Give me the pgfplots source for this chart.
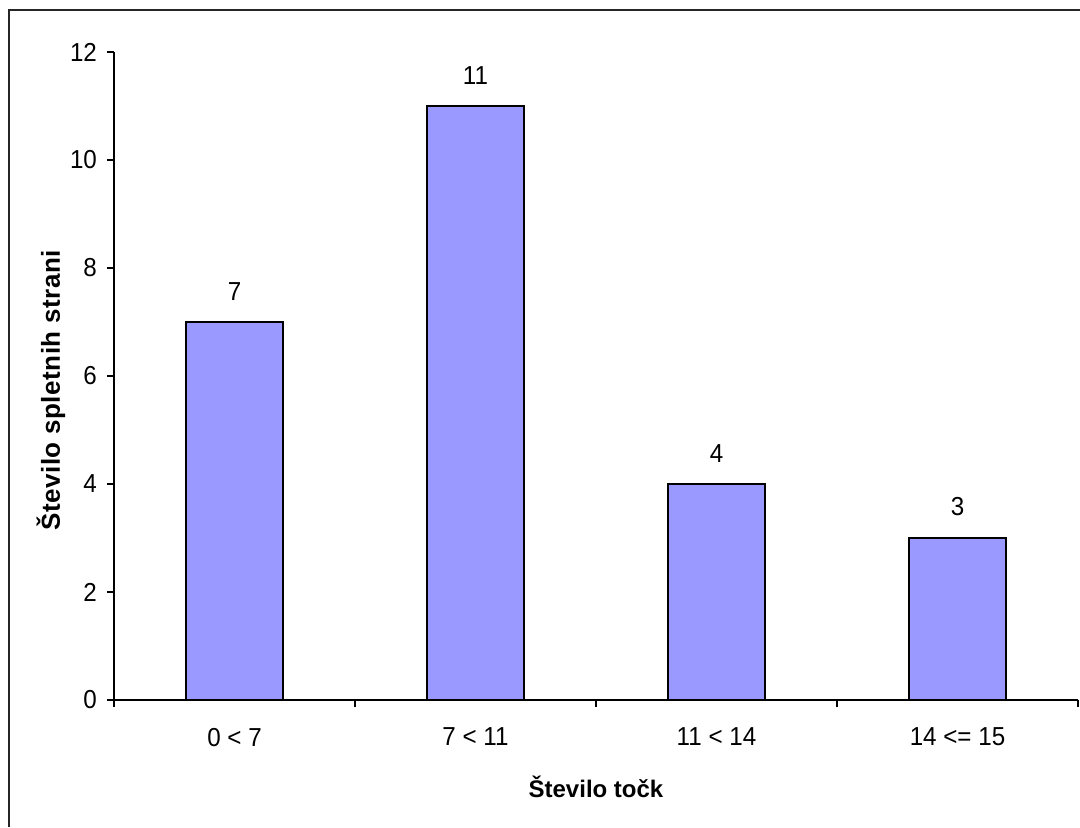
\documentclass[border=0pt]{standalone}
\usepackage{fontspec}
\setmainfont{Liberation Sans}
\newfontfamily\numfont{Liberation Sans}[FakeStretch=0.93]
\usepackage{pgfplots}
\pgfplotsset{compat=1.18}
\definecolor{barfill}{HTML}{9999FF}

\begin{document}
\begin{tikzpicture}
\path[use as bounding box] (0pt,0pt) rectangle (540pt,413.5pt);
% chart frame
\draw[line width=1pt, black!85] (4.5pt,0pt) -- (4.5pt,408.5pt) -- (540pt,408.5pt);
\begin{axis}[
  at={(57pt,63.5pt)}, anchor=south west,
  scale only axis, width=482pt, height=324pt,
  xmin=-0.5, xmax=3.5, ymin=0, ymax=12,
  ytick={0,2,...,12},
  axis x line*=bottom, axis y line*=left,
  axis line style={-, line width=0.75pt, black},
  tick align=outside, major tick length=3.5pt,
  tick style={black, line width=0.75pt},
  xtick={-0.5,0.5,1.5,2.5,3.5}, xticklabels={},
  extra x ticks={0,1,2,3},
  extra x tick labels={0 < 7, 7 < 11, 11 < 14, 14 <= 15},
  extra x tick style={major tick length=0pt},
  ticklabel style={font=\numfont\fontsize{13}{15}\selectfont},
  xticklabel style={yshift=-10.5pt},
  yticklabel style={xshift=-1.5pt},
  /pgf/number format/assume math mode=true,
  xlabel={Število točk},
  xlabel style={font=\fontsize{12}{14}\selectfont\bfseries, at={(axis description cs:0.5,-0.134)}, anchor=center},
  ylabel={Število spletnih strani},
  ylabel style={font=\fontsize{13}{15}\selectfont\bfseries\addfontfeature{LetterSpace=2}, at={(axis description cs:-0.0654,0.478)}, anchor=center},
  clip=false,
]
\addplot[ybar, bar width=48.25pt, fill=barfill, draw=black, line width=1pt,
  nodes near coords,
  every node near coord/.append style={font=\numfont\fontsize{13}{15}\selectfont, anchor=south, inner sep=0pt, yshift=10.5pt, black}]
  coordinates {(0,7) (1,11) (2,4) (3,3)};
\end{axis}
\end{tikzpicture}
\end{document}
